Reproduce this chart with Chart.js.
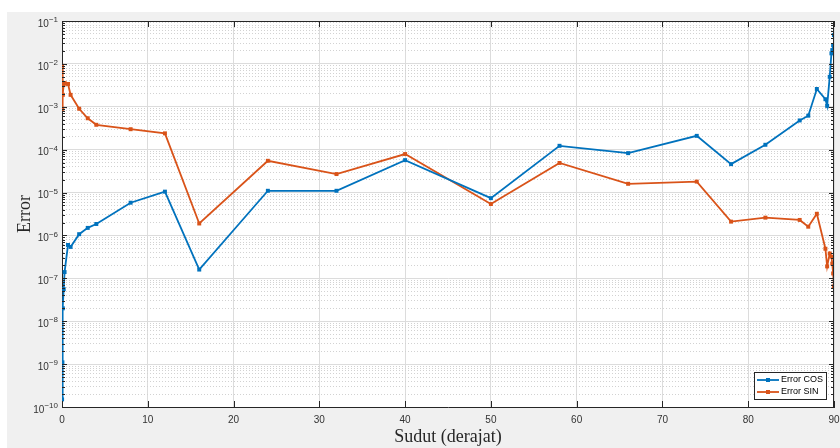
<!DOCTYPE html>
<html>
<head>
<meta charset="utf-8">
<script src="https://cdn.jsdelivr.net/npm/chart.js@4.4.1/dist/chart.umd.min.js"></script>
<style>
  html, body { margin: 0; padding: 0; background: #fff; }
  #wrap { width: 840px; height: 448px; }
</style>
</head>
<body>
<div id="wrap"><canvas id="errorChart" width="840" height="448"></canvas></div>
<script>
// sudut (derajat)
const angles = [0.01, 0.05, 0.1, 0.2, 0.3, 0.7, 1, 2, 3, 4, 8, 12, 16, 24, 32, 40, 50, 58, 66, 74, 78, 82,
  86, 87, 88, 89, 89.2, 89.5, 89.7, 89.8, 89.9, 89.99];

const errCos = [1.5e-10, 1.1e-9, 2e-8, 5.6e-8, 1.4e-7, 6e-7, 5.4e-7, 1.07e-6, 1.5e-6, 1.85e-6, 5.8e-6, 1.05e-5,
  1.6e-7, 1.1e-5, 1.1e-5, 5.7e-5, 7.4e-6, 1.23e-4, 8.3e-5, 2.1e-4, 4.6e-5, 1.3e-4,
  4.8e-4, 6.2e-4, 2.6e-3, 1.5e-3, 1.05e-3, 5e-3, 1.76e-2, 2.1e-2, 2.75e-2, 4.7e-2];

const errSin = [9e-3, 9e-4, 1.9e-3, 3.3e-3, 3.6e-3, 3.4e-3, 1.9e-3, 9e-4, 5.4e-4, 3.8e-4, 3e-4, 2.4e-4,
  1.9e-6, 5.5e-5, 2.7e-5, 7.9e-5, 5.4e-6, 4.9e-5, 1.6e-5, 1.8e-5, 2.1e-6, 2.6e-6,
  2.3e-6, 1.6e-6, 3.2e-6, 4.9e-7, 1.9e-7, 3.8e-7, 3.2e-7, 2.2e-7, 1.3e-7, 6.5e-8];

const xTicks = [0, 10, 20, 30, 40, 50, 60, 70, 80, 90];
const yDecades = [-10, -9, -8, -7, -6, -5, -4, -3, -2, -1];

const seriesNames = ['Error COS', 'Error SIN'];
const seriesColors = ['#0072BD', '#D95319'];

// log ticks: 1..9 x 10^e for each decade, labels only on the powers of ten
const yTicks = [];
yDecades.forEach((e, i) => {
  const last = i === yDecades.length - 1;
  for (let m = 1; m <= (last ? 1 : 9); m++) {
    yTicks.push({ value: m * Math.pow(10, e), major: m === 1, exp: e });
  }
});

const AXIS = '#262626';
const SANS = "'Liberation Sans', 'DejaVu Sans', sans-serif";
const TICK_FONT = { family: SANS, size: 10 };

const backgroundPlugin = {
  id: 'background',
  beforeDraw(chart) {
    const { ctx, chartArea: a } = chart;
    ctx.save();
    ctx.fillStyle = '#ffffff';
    ctx.fillRect(0, 0, chart.width, chart.height);
    ctx.fillStyle = '#f0f0f0';
    ctx.fillRect(7, 12, chart.width - 7, chart.height - 12);
    ctx.fillStyle = '#ffffff';
    ctx.fillRect(a.left, a.top, a.right - a.left, a.bottom - a.top);
    ctx.restore();
  }
};

// box, inward tick marks, 10^n labels and legend like the matlab figure
const boxPlugin = {
  id: 'box',
  afterDraw(chart) {
    const { ctx, chartArea: a, scales } = chart;
    ctx.save();
    ctx.strokeStyle = AXIS;
    ctx.lineWidth = 1;
    ctx.beginPath();
    ctx.moveTo(a.left + 0.5, a.top + 0.5);
    ctx.lineTo(a.right - 0.5, a.top + 0.5);
    ctx.lineTo(a.right - 0.5, a.bottom);
    ctx.stroke();

    ctx.beginPath();
    yTicks.forEach(t => {
      const y = Math.round(scales.y.getPixelForValue(t.value)) + 0.5;
      const len = t.major ? 5 : 3;
      ctx.moveTo(a.left, y); ctx.lineTo(a.left + len, y);
      ctx.moveTo(a.right, y); ctx.lineTo(a.right - len, y);
    });
    xTicks.forEach(v => {
      const x = Math.round(scales.x.getPixelForValue(v)) + 0.5;
      ctx.moveTo(x, a.bottom); ctx.lineTo(x, a.bottom - 6);
      ctx.moveTo(x, a.top); ctx.lineTo(x, a.top + 6);
    });
    ctx.stroke();

    // y labels with raised exponent
    ctx.fillStyle = '#333333';
    ctx.textBaseline = 'middle';
    ctx.textAlign = 'left';
    yTicks.filter(t => t.major).forEach(t => {
      const y = scales.y.getPixelForValue(t.value);
      const ex = String(t.exp).replace('-', '\u2212');
      ctx.font = '8px ' + SANS;
      const w2 = ctx.measureText(ex).width;
      ctx.font = '10px ' + SANS;
      const w1 = ctx.measureText('10').width;
      const right = 58;
      ctx.fillText('10', right - w2 - w1, y + 3);
      ctx.font = '8px ' + SANS;
      ctx.fillText(ex, right - w2, y - 1);
    });

    // legend
    const lx = 754, ly = 372, lw = 72, lh = 27;
    ctx.fillStyle = '#ffffff';
    ctx.fillRect(lx, ly, lw, lh);
    ctx.strokeStyle = AXIS;
    ctx.lineWidth = 1;
    ctx.strokeRect(lx + 0.5, ly + 0.5, lw, lh);
    ctx.font = '9px ' + SANS;
    ctx.textBaseline = 'middle';
    chart.data.datasets.forEach((ds, i) => {
      const y = ly + 8 + i * 12;
      ctx.strokeStyle = ds.borderColor;
      ctx.lineWidth = 1.8;
      ctx.beginPath();
      ctx.moveTo(lx + 3, y); ctx.lineTo(lx + 25, y);
      ctx.stroke();
      ctx.fillStyle = ds.borderColor;
      ctx.fillRect(lx + 12, y - 2, 4, 4);
      ctx.fillStyle = '#000000';
      ctx.fillText(ds.label, lx + 27, y);
    });
    ctx.restore();
  }
};

const ctx = document.getElementById('errorChart').getContext('2d');
new Chart(ctx, {
  type: 'line',
  data: {
    datasets: [errCos, errSin].map((vals, i) => ({
      label: seriesNames[i],
      data: angles.map((a, j) => ({ x: a, y: vals[j] })),
      borderColor: seriesColors[i],
      backgroundColor: seriesColors[i],
      borderWidth: 1.8,
      pointStyle: 'rect',
      pointRadius: 2.8,
      pointBorderWidth: 0,
      tension: 0,
      fill: false
    }))
  },
  options: {
    responsive: false,
    animation: false,
    layout: { padding: { top: 21, right: 6, left: 0, bottom: 0 } },
    plugins: {
      legend: { display: false },
      tooltip: { enabled: false }
    },
    scales: {
      x: {
        type: 'linear',
        min: 0,
        max: 90,
        afterBuildTicks: s => { s.ticks = xTicks.map(v => ({ value: v })); },
        afterFit: s => { s.height = 41; s.paddingLeft = 0; s.paddingRight = 0; },
        grid: { color: '#dcdcdc', lineWidth: 1, drawTicks: false },
        border: { color: AXIS, width: 1 },
        ticks: { padding: 7, color: '#333333', font: TICK_FONT, maxRotation: 0, autoSkip: false },
        title: {
          display: true,
          text: 'Sudut (derajat)',
          color: '#262626',
          font: { family: "'Liberation Serif', 'DejaVu Serif', serif", size: 18 },
          padding: { top: 0, bottom: 0 }
        }
      },
      y: {
        type: 'logarithmic',
        min: 1e-10,
        max: 1e-1,
        afterBuildTicks: s => { s.ticks = yTicks.map(t => ({ value: t.value, major: t.major })); },
        afterFit: s => { s.width = 62; s.paddingTop = 0; s.paddingBottom = 0; },
        grid: {
          color: c => (c.tick && c.tick.major) ? '#dcdcdc' : '#d2d2d2',
          lineWidth: 1,
          drawTicks: false
        },
        border: {
          color: AXIS,
          width: 1,
          dash: c => (c.tick && !c.tick.major) ? [1, 2] : []
        },
        ticks: {
          padding: 5,
          font: TICK_FONT,
          autoSkip: false,
          callback: () => ''
        },
        title: {
          display: true,
          text: 'Error',
          color: '#262626',
          font: { family: "'Liberation Serif', 'DejaVu Serif', serif", size: 18 },
          padding: { top: 14, bottom: 0 }
        }
      }
    }
  },
  plugins: [backgroundPlugin, boxPlugin]
});
</script>
</body>
</html>
